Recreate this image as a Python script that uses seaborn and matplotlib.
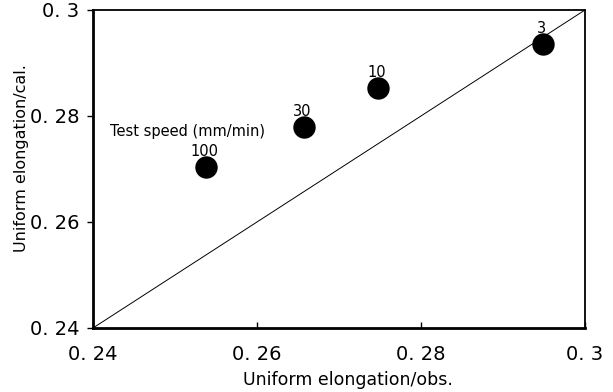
import matplotlib
matplotlib.use("Agg")
import matplotlib.pyplot as plt
import seaborn as sns
import pandas as pd

obs = [0.2538, 0.2657, 0.2748, 0.2949]
cal = [0.2704, 0.2779, 0.2853, 0.2936]
speeds = ["100", "30", "10", "3"]
ticks = [0.24, 0.26, 0.28, 0.30]
tick_labels = ["0. 24", "0. 26", "0. 28", "0. 3"]

sns.set_theme(style="white")
plt.rcParams['font.family'] = ['DejaVu Sans']
plt.rcParams['text.color'] = 'black'

df = pd.DataFrame({"obs": obs, "cal": cal, "speed": speeds})

fig = plt.figure(figsize=(6.13, 3.92), dpi=100)
ax = fig.add_axes([0.1517, 0.1633, 0.9543 - 0.1517, 0.9745 - 0.1633])

ax.plot([0.24, 0.30], [0.24, 0.30], color="black", lw=0.7, zorder=1)
sns.scatterplot(data=df, x="obs", y="cal", ax=ax, s=260, color="black",
                edgecolor="black", linewidth=0, zorder=3, legend=False)

for x, y, t in zip(obs, cal, speeds):
    ax.annotate(t, (x, y), xytext=(-1, 6), textcoords="offset points",
                ha="center", va="bottom", fontsize=10.5, color="black")
ax.text(0.2421, 0.2770, "Test speed (mm/min)", ha="left", va="center",
        fontsize=10.5, color="black")

ax.set_xlim(0.24, 0.30)
ax.set_ylim(0.24, 0.30)
ax.set_xticks(ticks)
ax.set_xticklabels(tick_labels, fontsize=14, color="black")
ax.set_yticks(ticks)
ax.set_yticklabels(tick_labels, fontsize=14, color="black")
ax.tick_params(axis="x", direction="in", length=4, width=1, color="black", pad=12, bottom=True)
ax.tick_params(axis="y", direction="out", length=4, width=1, color="black", pad=6, left=True)
ax.set_xlabel("Uniform elongation/obs.", fontsize=12.5, color="black")
ax.set_ylabel("Uniform elongation/cal.", fontsize=11.5, color="black")
ax.xaxis.set_label_coords(0.518, -0.135)
ax.yaxis.set_label_coords(-0.13, 0.535)

for side, s in ax.spines.items():
    s.set_color("black")
    s.set_visible(True)
ax.spines["left"].set_linewidth(2)
ax.spines["bottom"].set_linewidth(2)
ax.spines["top"].set_linewidth(1.3)
ax.spines["right"].set_linewidth(1.3)

fig.savefig("out.png", dpi=100)
